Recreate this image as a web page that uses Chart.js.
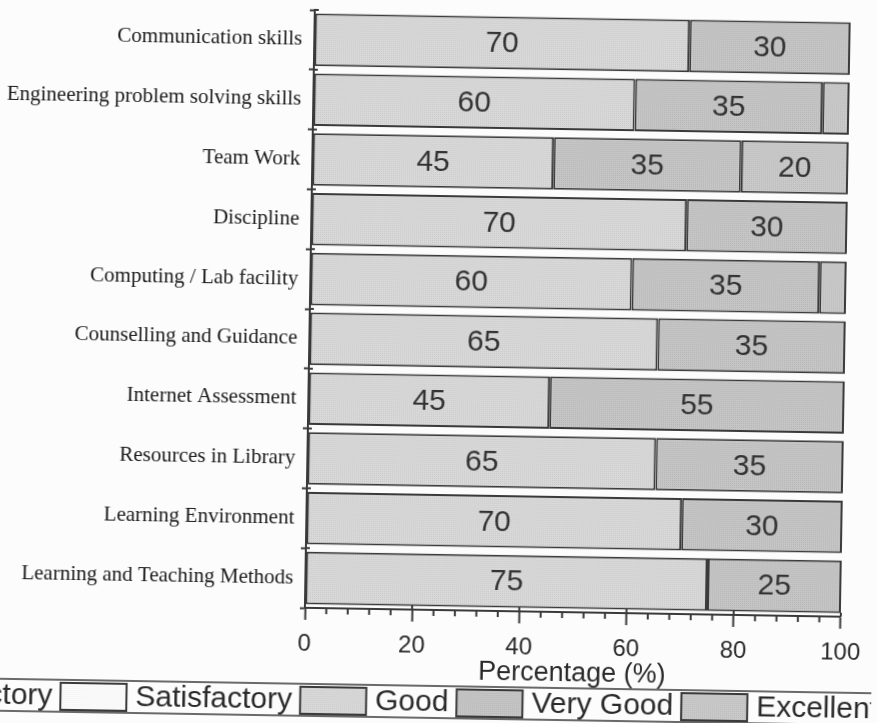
<!DOCTYPE html>
<html lang="en">
<head>
<meta charset="UTF-8"/>
<title>Student feedback</title>
<script src="https://cdn.jsdelivr.net/npm/chart.js@4.4.0/dist/chart.umd.min.js"></script>
<style>
  body { margin: 0; background: #fcfcfc; overflow: hidden; }
  #wrap { position: absolute; left: 0; top: 0; width: 877px; height: 723px; transform: rotate(0.95deg); }
</style>
</head>
<body>
<div id="wrap"><canvas id="c"></canvas></div>
<script>
var categories = ['Communication skills', 'Engineering problem solving skills', 'Team Work', 'Discipline',
  'Computing / Lab facility', 'Counselling and Guidance', 'Internet Assessment', 'Resources in Library',
  'Learning Environment', 'Learning and Teaching Methods'];
var seriesNames = ['Unsatisfactory', 'Satisfactory', 'Good', 'Very Good', 'Excellent'];
var unsatisfactory = [0, 0, 0, 0, 0, 0, 0, 0, 0, 0];
var satisfactory   = [0, 0, 0, 0, 0, 0, 0, 0, 0, 0];
var good           = [70, 60, 45, 70, 60, 65, 45, 65, 70, 75];
var veryGood       = [30, 35, 35, 30, 35, 35, 55, 35, 30, 25];
var excellent      = [0, 5, 20, 0, 5, 0, 0, 0, 0, 0];
var xMin = 0, xMax = 100, xStep = 4, xLabelEvery = 20;

var canvas = document.getElementById('c');
var cx = canvas.getContext('2d');

// halftone look of the scanned fills
function dotted(base, dot) {
  var p = document.createElement('canvas');
  p.width = 2; p.height = 2;
  var g = p.getContext('2d');
  g.fillStyle = base; g.fillRect(0, 0, 2, 2);
  g.fillStyle = dot; g.fillRect(0, 0, 1, 1);
  return cx.createPattern(p, 'repeat');
}
var fills = [
  dotted('#ececec', '#e2e2e2'),
  dotted('#fbfbfb', '#f2f2f2'),
  dotted('#d9d9d9', '#c9c9c9'),
  dotted('#c6c6c6', '#b4b4b4'),
  dotted('#cacaca', '#b8b8b8')
];
var edge = '#3a3a3a';

var valueLabels = {
  id: 'valueLabels',
  afterDatasetsDraw: function(chart) {
    var ctx = chart.ctx;
    ctx.save();
    ctx.fillStyle = '#333';
    ctx.font = '30px "Liberation Sans", Arial, sans-serif';
    ctx.textAlign = 'center';
    ctx.textBaseline = 'middle';
    chart.data.datasets.forEach(function(ds, i) {
      chart.getDatasetMeta(i).data.forEach(function(bar, j) {
        var v = ds.data[j];
        if (v < 10) return;
        var p = bar.getProps(['x', 'y', 'base'], true);
        ctx.fillText(v, (p.x + p.base) / 2, p.y + 1);
      });
    });
    ctx.restore();
  }
};

// minor ticks on the x axis, short cross marks on the y axis, framed legend row
var extras = {
  id: 'extras',
  afterDraw: function(chart) {
    var ctx = chart.ctx, xs = chart.scales.x, ys = chart.scales.y;
    ctx.save();
    ctx.strokeStyle = edge;
    ctx.lineWidth = 2;
    xs.ticks.forEach(function(t) {
      var px = xs.getPixelForValue(t.value);
      ctx.beginPath();
      if (t.value % xLabelEvery) { ctx.moveTo(px, xs.top); ctx.lineTo(px, xs.top + 6); }
      else { ctx.moveTo(px, xs.top - 4); ctx.lineTo(px, xs.top); }
      ctx.stroke();
    });
    for (var i = 0; i <= categories.length; i++) {
      var py = ys.getPixelForValue(i - 0.5);
      ctx.beginPath(); ctx.moveTo(ys.right, py); ctx.lineTo(ys.right + 4, py); ctx.stroke();
    }

    var top = xs.bottom + 1, h = 32;
    ctx.lineWidth = 1.5;
    ctx.beginPath();
    ctx.moveTo(0, top); ctx.lineTo(chart.width, top);
    ctx.moveTo(0, top + h); ctx.lineTo(chart.width, top + h);
    ctx.stroke();
    ctx.font = '30px "Liberation Sans", Arial, sans-serif';
    ctx.textBaseline = 'middle';
    var x = -207;
    chart.data.datasets.forEach(function(ds) {
      ctx.fillStyle = ds.backgroundColor;
      ctx.fillRect(x, top + 3, 66, 27);
      ctx.lineWidth = 2;
      ctx.strokeRect(x, top + 3, 66, 27);
      ctx.fillStyle = '#2a2a2a';
      ctx.fillText(ds.label, x + 75, top + h / 2 + 1);
      x += 75 + ctx.measureText(ds.label).width + 8;
    });
    ctx.restore();
  }
};

var seriesData = [unsatisfactory, satisfactory, good, veryGood, excellent];
var datasets = seriesNames.map(function(name, i) {
  return {
    label: name,
    data: seriesData[i],
    backgroundColor: fills[i],
    borderColor: edge,
    borderWidth: function(c) { return c.raw > 0 ? 2 : 0; },
    borderSkipped: false,
    categoryPercentage: 1,
    barPercentage: 0.88
  };
});

new Chart(canvas, {
  type: 'bar',
  data: { labels: categories, datasets: datasets },
  plugins: [valueLabels, extras],
  options: {
    indexAxis: 'y',
    responsive: true,
    maintainAspectRatio: false,
    animation: false,
    layout: { padding: { top: 12, right: 14, bottom: 38, left: 0 } },
    plugins: { legend: { display: false }, tooltip: { enabled: false } },
    scales: {
      x: {
        stacked: true,
        min: xMin, max: xMax,
        grid: {
          drawOnChartArea: false,
          tickLength: 12,
          tickWidth: 2,
          tickColor: function(c) { return c.tick && c.tick.value % xLabelEvery ? 'rgba(0,0,0,0)' : edge; }
        },
        border: { color: edge, width: 2 },
        ticks: {
          stepSize: xStep,
          autoSkip: false,
          maxRotation: 0,
          padding: 12,
          color: '#2a2a2a',
          font: { family: '"Liberation Sans", Arial, sans-serif', size: 24, lineHeight: 1 },
          callback: function(v) { return v % xLabelEvery ? '' : v; }
        },
        title: {
          display: true,
          text: 'Percentage (%)',
          color: '#2a2a2a',
          padding: { top: -12, bottom: 0 },
          font: { family: '"Liberation Sans", Arial, sans-serif', size: 27, lineHeight: 1 }
        }
      },
      y: {
        stacked: true,
        grid: { drawOnChartArea: false, tickLength: 5, tickWidth: 2, tickColor: edge },
        border: { color: edge, width: 2 },
        ticks: {
          padding: 7,
          color: '#1a1a1a',
          font: { family: '"Liberation Serif", "Times New Roman", serif', size: 21 }
        },
        afterFit: function(s) { s.width = 309; s.paddingTop = 0; s.paddingBottom = 0; }
      }
    }
  }
});
</script>
</body>
</html>
